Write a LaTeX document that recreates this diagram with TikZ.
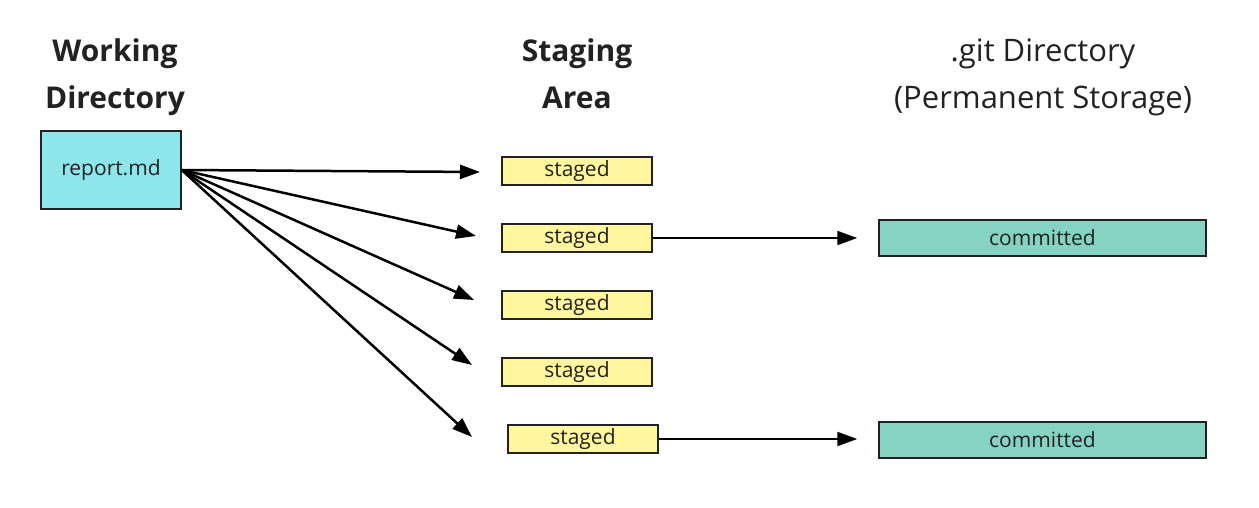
\documentclass[tikz,border=0pt]{standalone}
\usepackage{fontspec}
\setmainfont{Open Sans}
\usetikzlibrary{arrows.meta}
\definecolor{wdcyan}{RGB}{141,230,234}
\definecolor{stageyellow}{RGB}{255,246,157}
\definecolor{gitteal}{RGB}{134,211,196}
\definecolor{inkgray}{RGB}{34,34,34}
\begin{document}
\begin{tikzpicture}[x=1pt,y=-1pt]
\tikzstyle{every node}=[text=inkgray, inner sep=0pt]
\tikzstyle{title}=[align=center, anchor=base, font=\fontsize{30}{47}\selectfont\bfseries]
\tikzstyle{gittitle}=[align=center, anchor=base, font=\fontsize{31}{47}\selectfont]
\tikzstyle{file}=[draw=inkgray, line width=1.5pt, fill=wdcyan,
  minimum width=140pt, minimum height=78pt, font=\fontsize{21}{25}\selectfont]
\tikzstyle{staged}=[draw=inkgray, line width=1.5pt, fill=stageyellow,
  minimum width=150pt, minimum height=28pt, font=\fontsize{21}{25}\selectfont]
\tikzstyle{committed}=[draw=inkgray, line width=1.5pt, fill=gitteal,
  minimum width=327pt, minimum height=36pt, font=\fontsize{21}{25}\selectfont]
\tikzstyle{add}=[-{Triangle[length=20pt,width=14pt]}, line width=2.5pt, draw=black]
\tikzstyle{commit}=[-{Triangle[length=20pt,width=14pt]}, line width=2pt, draw=black,
  shorten >=21pt]
\useasboundingbox (0,0) rectangle (1259,508);
% column titles (base = last line)
\node[title] (wdtitle) at (115,109) {Working\\Directory};
\node[title] (satitle) at (577,109) {Staging\\Area};
\node[gittitle] (gittitle) at (1043,109) {.git Directory\\(Permanent Storage)};
% boxes
\node[file] (report) at (111,170) {report.md};
\node[staged] (s1) at (577,171) {staged};
\node[staged] (s2) at (577,238) {staged};
\node[staged] (s3) at (577,305) {staged};
\node[staged] (s4) at (577,372) {staged};
\node[staged] (s5) at (583,439) {staged};
\node[committed] (c1) at (1042.5,238) {committed};
\node[committed] (c2) at (1042.5,440) {committed};
% arrow ends short of the staged boxes
\coordinate (e1) at (480,172);
\coordinate (e2) at (476,236);
\coordinate (e3) at (474,300);
\coordinate (e4) at (472,365);
\coordinate (e5) at (472,437);
\draw[add] (report.east) -- (e1);
\draw[add] (report.east) -- (e2);
\draw[add] (report.east) -- (e3);
\draw[add] (report.east) -- (e4);
\draw[add] (report.east) -- (e5);
\draw[commit] (s2.east) -- (s2.east -| c1.west);
\draw[commit] (s5.east) -- (s5.east -| c2.west);
\end{tikzpicture}
\end{document}
